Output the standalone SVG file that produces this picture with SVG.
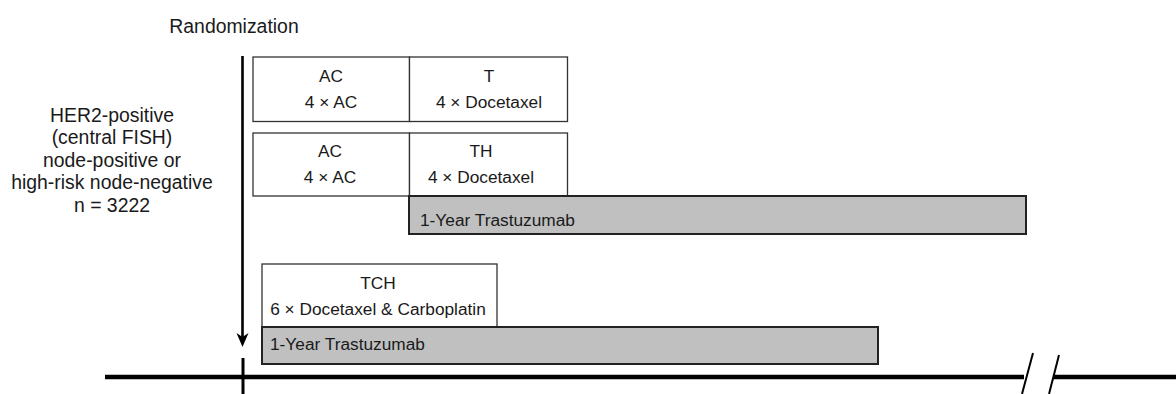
<svg xmlns="http://www.w3.org/2000/svg" width="1176" height="394" viewBox="0 0 1176 394">
<defs>
<style>
text{font-family:"Liberation Sans",Arial,Helvetica,sans-serif;fill:#1a1a1a}
.lbl{font-size:19.4px;text-anchor:middle}
.bx{font-size:17.3px;text-anchor:middle}
.bar-t{font-size:17.3px}
.box{fill:#fff;stroke:#333;stroke-width:1.3}
.bar{fill:#c0c0c0;stroke:#222;stroke-width:2}
.ax{stroke:#000;fill:none}
</style>
</defs>
<rect width="1176" height="394" fill="#fff"/>
<g id="labels">
<text class="lbl" x="234" y="32.5">Randomization</text>
<text class="lbl" x="112" y="121.5">HER2-positive</text>
<text class="lbl" x="112" y="144">(central FISH)</text>
<text class="lbl" x="112" y="166.5">node-positive or</text>
<text class="lbl" x="112" y="189">high-risk node-negative</text>
<text class="lbl" x="112" y="211.5">n = 3222</text>
</g>
<g id="connectors">
<line class="ax" x1="242.5" y1="56" x2="242.5" y2="338" stroke-width="2.6"/>
<polygon points="242.5,347 236.5,333 242.5,337 248.5,333" fill="#000"/>
<line class="ax" x1="243" y1="358" x2="243" y2="394" stroke-width="3"/>
<line class="ax" x1="105" y1="377" x2="1024" y2="377" stroke-width="4.5"/>
<line class="ax" x1="1053" y1="377" x2="1176" y2="377" stroke-width="4.5"/>
<line class="ax" x1="1033" y1="353" x2="1022" y2="394" stroke-width="2"/>
<line class="ax" x1="1059" y1="355" x2="1049" y2="394" stroke-width="2"/>
</g>
<g id="arm1">
<rect class="box" x="253" y="57" width="156.5" height="64.5"/>
<text class="bx" x="331" y="82">AC</text>
<text class="bx" x="331" y="108">4 × AC</text>
<rect class="box" x="409.5" y="57" width="158" height="64.5"/>
<text class="bx" x="489" y="82">T</text>
<text class="bx" x="489" y="108">4 × Docetaxel</text>
</g>
<g id="arm2">
<rect class="box" x="253" y="133" width="156.5" height="63"/>
<text class="bx" x="330" y="157">AC</text>
<text class="bx" x="330" y="183">4 × AC</text>
<rect class="box" x="409.5" y="133" width="158" height="63"/>
<text class="bx" x="481" y="157">TH</text>
<text class="bx" x="481" y="183">4 × Docetaxel</text>
<rect class="bar" x="409" y="196" width="617" height="38"/>
<text class="bar-t" x="420" y="226">1-Year Trastuzumab</text>
</g>
<g id="arm3">
<rect class="box" x="262" y="264" width="235" height="63"/>
<text class="bx" x="378" y="288.5">TCH</text>
<text class="bx" x="378" y="314.5">6 × Docetaxel &amp; Carboplatin</text>
<rect class="bar" x="262" y="327" width="616" height="37"/>
<text class="bar-t" x="270" y="349.5">1-Year Trastuzumab</text>
</g>
</svg>
